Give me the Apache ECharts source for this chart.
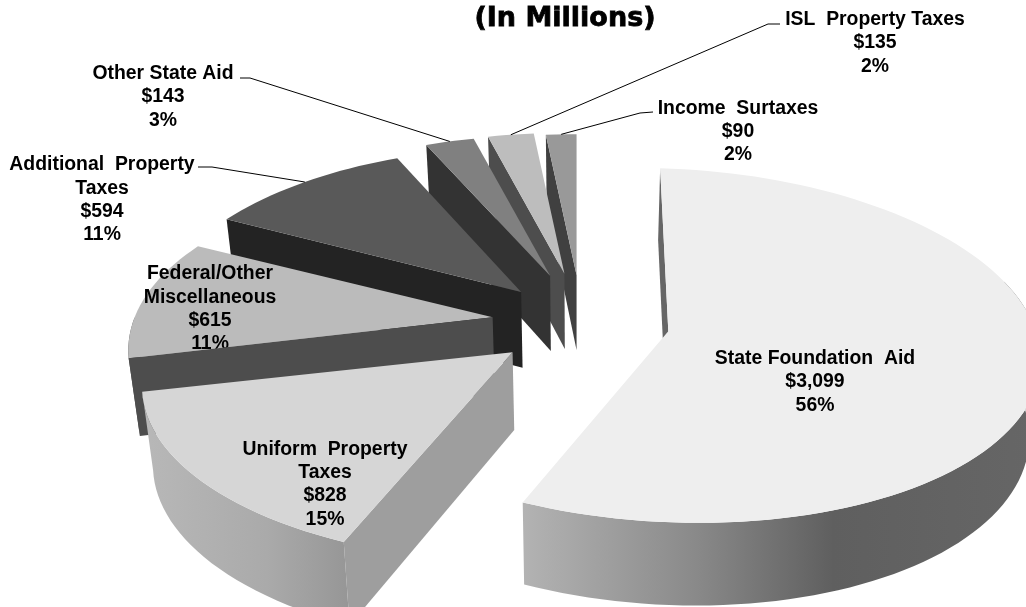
<!DOCTYPE html>
<html><head><meta charset="utf-8">
<style>html,body{margin:0;padding:0;background:#fff}#c{width:1026px;height:607px}</style>
<script src="https://cdn.jsdelivr.net/npm/echarts@6/dist/echarts.min.js"></script>
</head><body><div id="c"></div>
<script>
const categories = ['State Foundation Aid','Uniform Property Taxes','Federal/Other Miscellaneous','Additional Property Taxes','Other State Aid','ISL Property Taxes','Income Surtaxes'];
const values = [3099,828,615,594,143,135,90];
const percents = [56,15,11,11,3,2,2];
const moneyLabels = ['$3,099','$828','$615','$594','$143','$135','$90'];
const nameLines = ['State Foundation  Aid','Uniform  Property\nTaxes','Federal/Other\nMiscellaneous','Additional  Property\nTaxes','Other State Aid','ISL  Property Taxes','Income  Surtaxes'];
const topColors = ['#eeeeee','#d6d6d6','#bbbbbb','#595959','#808080','#bdbdbd','#999999'];
const sideColors = ['#666666','#9e9e9e','#4d4d4d','#232323','#333333','#4d4d4d','#404040'];
const drawOrder = [6,5,4,3,2,0,1];

// view settings
const VIEW = {cx:579, cy:322, ex:87, ey:47, step:2, depth:76, depthSlope:0.03, shrink:0.025};
const POSE = {q:0.214, rx:363, ry:171, t:0, s:0};
const POSE_BY_SLICE = {
  0:{q:0.08, rx:370, ry:176, t:10, s:0.05, ax:4, ay:0},
  1:{ry:165, s:0.03},
  2:{rx:358, s:0.06, ay:1},
  3:{ay:4, ax:2, ry:175},
  4:{ay:-2},
  5:{ay:-2, ax:1},
  6:{ax:2}
};
const LABELS = [[815,382],[325,484.5],[210,309],[102,200],[163,97],[875,43],[738,131.5]];
const LINE_H = 23.3;
const LEADERS = {4:[[240,78],[250,78]],5:[[780,24],[768,24]],6:[[653,112],[640,113]],3:[[198,167],[212,167]]};

const total = values.reduce((a,b)=>a+b,0);
const starts = []; let acc = 0;
values.forEach(v=>{starts.push(acc/total*360); acc+=v;});
const rad = d=>d*Math.PI/180;
function span(i){return [starts[i], starts[i]+values[i]/total*360];}
function point(i,deg,apex,low){
  const [a,b]=span(i), mid=rad((a+b)/2), p=Object.assign({},POSE,POSE_BY_SLICE[i]||{});
  const ax=VIEW.cx+VIEW.ex*Math.sin(mid)+(p.ax||0), ay=VIEW.cy-VIEW.ey*Math.cos(mid)+(p.ay||0);
  let dx=0,dy=0;
  if(!apex){
    const c=Math.cos(rad(deg)),s=Math.sin(rad(deg)),w=1+p.q*c;
    dy=(-p.ry*c+p.t*s)/w; dx=p.rx*s/w+p.s*dy;
  }
  const sx=ax+dx, sy=ay+dy;
  if(!low) return [sx,sy];
  return [sx-(sx-VIEW.cx)*VIEW.shrink, sy+VIEW.depth+VIEW.depthSlope*(sy-300)];
}
function arc(i,from,to,low){
  const out=[]; const n=Math.max(2,Math.ceil((to-from)/VIEW.step));
  for(let k=0;k<=n;k++) out.push(point(i,from+(to-from)*k/n,false,low));
  return out;
}
function sideFill(i){
  if(i===0) return new echarts.graphic.LinearGradient(0,0,1,0,[
    {offset:0,color:'#b3b3b3'},{offset:0.33,color:'#8a8a8a'},{offset:0.6,color:'#5f5f5f'},{offset:1,color:'#666666'}]);
  if(i===1) return new echarts.graphic.LinearGradient(0,0,1,0,[
    {offset:0,color:'#b8b8b8'},{offset:0.6,color:'#aaaaaa'},{offset:1,color:'#969696'}]);
  return sideColors[i];
}
const FONT='bold 19.4px "Liberation Sans", Arial, sans-serif';
function labelText(i){
  const [x,y]=LABELS[i];
  const text=nameLines[i]+'\n'+moneyLabels[i]+'\n'+percents[i]+'%';
  return {type:'text',silent:true,style:{text,x,y,align:'center',verticalAlign:'middle',font:FONT,lineHeight:LINE_H,fill:'#000'}};
}
function renderSlice(params,api){
  const i=api.value(0), [a,b]=span(i), children=[];
  const poly=(pts,fill)=>children.push({type:'polygon',shape:{points:pts},style:{fill:fill,stroke:null},silent:true});
  const top=()=>poly([point(i,a,true,false)].concat(arc(i,a,b,false)),topColors[i]);
  const radial=()=>poly([point(i,a,false,false),point(i,a,true,false),point(i,a,true,true),point(i,a,false,true)],sideColors[i]);
  const wa=Math.max(a,i===0?70:90), wb=Math.min(b,270);
  if(i!==2) radial();
  if(wb>wa){
    const up=arc(i,wa,wb,false), dn=arc(i,wa,wb,true).reverse();
    poly(up.concat(dn),sideFill(i));
  }
  top();
  // the Federal label sits under that slice's own front wall
  if(i===2){ children.push(labelText(2)); radial(); }
  return {type:'group',children};
}
function renderLabel(params,api){
  const i=api.value(0), children=[];
  if(i!==2) children.push(labelText(i));
  if(LEADERS[i]){
    const [a,b]=span(i), end=point(i,(a+b)/2,false,false);
    children.push({type:'polyline',silent:true,shape:{points:[LEADERS[i][0],LEADERS[i][1],end]},style:{stroke:'#000',lineWidth:1,fill:null}});
  }
  return {type:'group',children};
}
const chart=echarts.init(document.getElementById('c'),null,{renderer:'canvas'});
chart.setOption({
  animation:false,
  backgroundColor:'#fff',
  title:{text:'(In Millions)',left:560,textAlign:'center',top:0,textStyle:{fontFamily:'"DejaVu Sans"',fontWeight:'bold',fontSize:27,color:'#000',textBorderColor:'#000',textBorderWidth:0.8}},
  series:[
    {type:'custom',coordinateSystem:'none',clip:false,z:2,renderItem:renderSlice,data:drawOrder.map(i=>({value:[i,values[i]],name:categories[i]}))},
    {type:'custom',coordinateSystem:'none',clip:false,z:3,renderItem:renderLabel,data:categories.map((n,i)=>({value:[i,values[i]],name:n}))}
  ]
});
</script></body></html>
